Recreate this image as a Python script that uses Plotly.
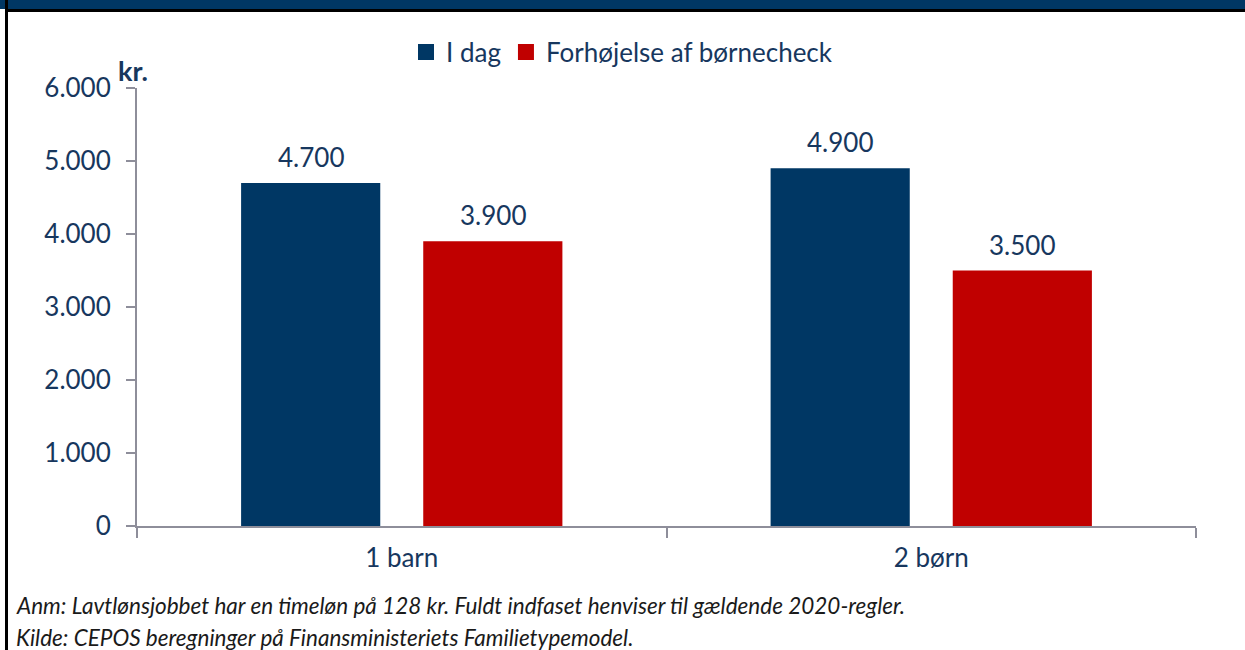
import plotly.graph_objects as go

categories = ["1 barn", "2 børn"]
series_names = ["I dag", "Forhøjelse af børnecheck"]
i_dag = [4700, 4900]
forhoejelse = [3900, 3500]
footnote_1 = "Anm: Lavtlønsjobbet har en timeløn på 128 kr. Fuldt indfaset henviser til gældende 2020-regler."
footnote_2 = "Kilde: CEPOS beregninger på Finansministeriets Familietypemodel."
y_unit = "kr."

NAVY = "#003764"
RED = "#C00000"
TXT = "#17375E"
AXIS = "#8E8E9A"
FONT = "Lato"
FS = 26

W, H = 1245, 650
L, R, T, B = 137, 49, 88, 124
pw, ph = W - L - R, H - T - B

def px_x(x):
    return (x - L) / pw

def px_y(y):
    return (H - B - y) / ph

fig = go.Figure()
annotations = []
for k, (name, vals, col) in enumerate([(series_names[0], i_dag, NAVY), (series_names[1], forhoejelse, RED)]):
    fig.add_trace(go.Bar(
        x=categories, y=vals, name=name, marker=dict(color=col, line=dict(width=0)),
        showlegend=False, hoverinfo="skip"))
    fig.add_trace(go.Scatter(
        x=[None], y=[None], mode="markers", name=name,
        marker=dict(symbol="square", size=19, color=col)))
    for c, v in zip(categories, vals):
        annotations.append(dict(
            x=c, y=v, xref="x", yref="y", text=f"{v:,.0f}".replace(",", "."),
            showarrow=False, xanchor="center", yanchor="middle",
            xshift=-91 if k == 0 else 91, yshift=26,
            font=dict(family=FONT, size=FS, color=TXT)))

annotations += [
    dict(text="<b>" + y_unit + "</b>", xref="paper", yref="paper", x=px_x(133), y=px_y(70),
         xanchor="center", yanchor="middle", showarrow=False,
         font=dict(family=FONT, size=27, color=TXT)),
    dict(text="<i>" + footnote_1 + "</i>", xref="paper", yref="paper", x=px_x(14), y=px_y(605),
         xanchor="left", yanchor="middle", showarrow=False,
         font=dict(family=FONT, size=22.5, color="#1A1A1A")),
    dict(text="<i>" + footnote_2 + "</i>", xref="paper", yref="paper", x=px_x(14), y=px_y(637),
         xanchor="left", yanchor="middle", showarrow=False,
         font=dict(family=FONT, size=22.5, color="#1A1A1A")),
]

fig.update_layout(
    width=W, height=H, margin=dict(l=L, r=R, t=T, b=B),
    paper_bgcolor="white", plot_bgcolor="white",
    separators=",.",
    barmode="group", bargap=0.312, bargroupgap=0.236,
    font=dict(family=FONT, color=TXT, size=FS),
    legend=dict(orientation="h", x=px_x(622), y=px_y(52), xanchor="center", yanchor="middle",
                font=dict(family=FONT, size=FS, color=TXT), itemwidth=30,
                bgcolor="rgba(0,0,0,0)", traceorder="normal"),
    xaxis=dict(showline=True, linecolor=AXIS, linewidth=2, ticks="outside", tickson="boundaries",
               ticklen=10, tickwidth=2, tickcolor=AXIS, showgrid=False, ticklabelstandoff=8,
               tickfont=dict(family=FONT, size=FS, color=TXT), range=[-0.5, 1.5]),
    yaxis=dict(showline=True, linecolor=AXIS, linewidth=2, ticks="outside", ticklen=9,
               tickwidth=2, tickcolor=AXIS, showgrid=False, zeroline=False, ticklabelstandoff=10,
               range=[0, 6000], dtick=1000, tickformat=",.0f",
               tickfont=dict(family=FONT, size=FS, color=TXT)),
    annotations=annotations,
    shapes=[
        dict(type="rect", xref="paper", yref="paper", x0=px_x(0), x1=px_x(W), y0=px_y(9), y1=px_y(0),
             fillcolor=NAVY, line=dict(width=0), layer="above"),
        dict(type="rect", xref="paper", yref="paper", x0=px_x(5), x1=px_x(W), y0=px_y(12), y1=px_y(9),
             fillcolor="black", line=dict(width=0), layer="above"),
        dict(type="rect", xref="paper", yref="paper", x0=px_x(5), x1=px_x(8), y0=px_y(H), y1=px_y(0),
             fillcolor="black", line=dict(width=0), layer="above"),
    ],
)

fig.write_html("out.html", config={"displayModeBar": False},
               post_script="document.body.style.margin='0';")
